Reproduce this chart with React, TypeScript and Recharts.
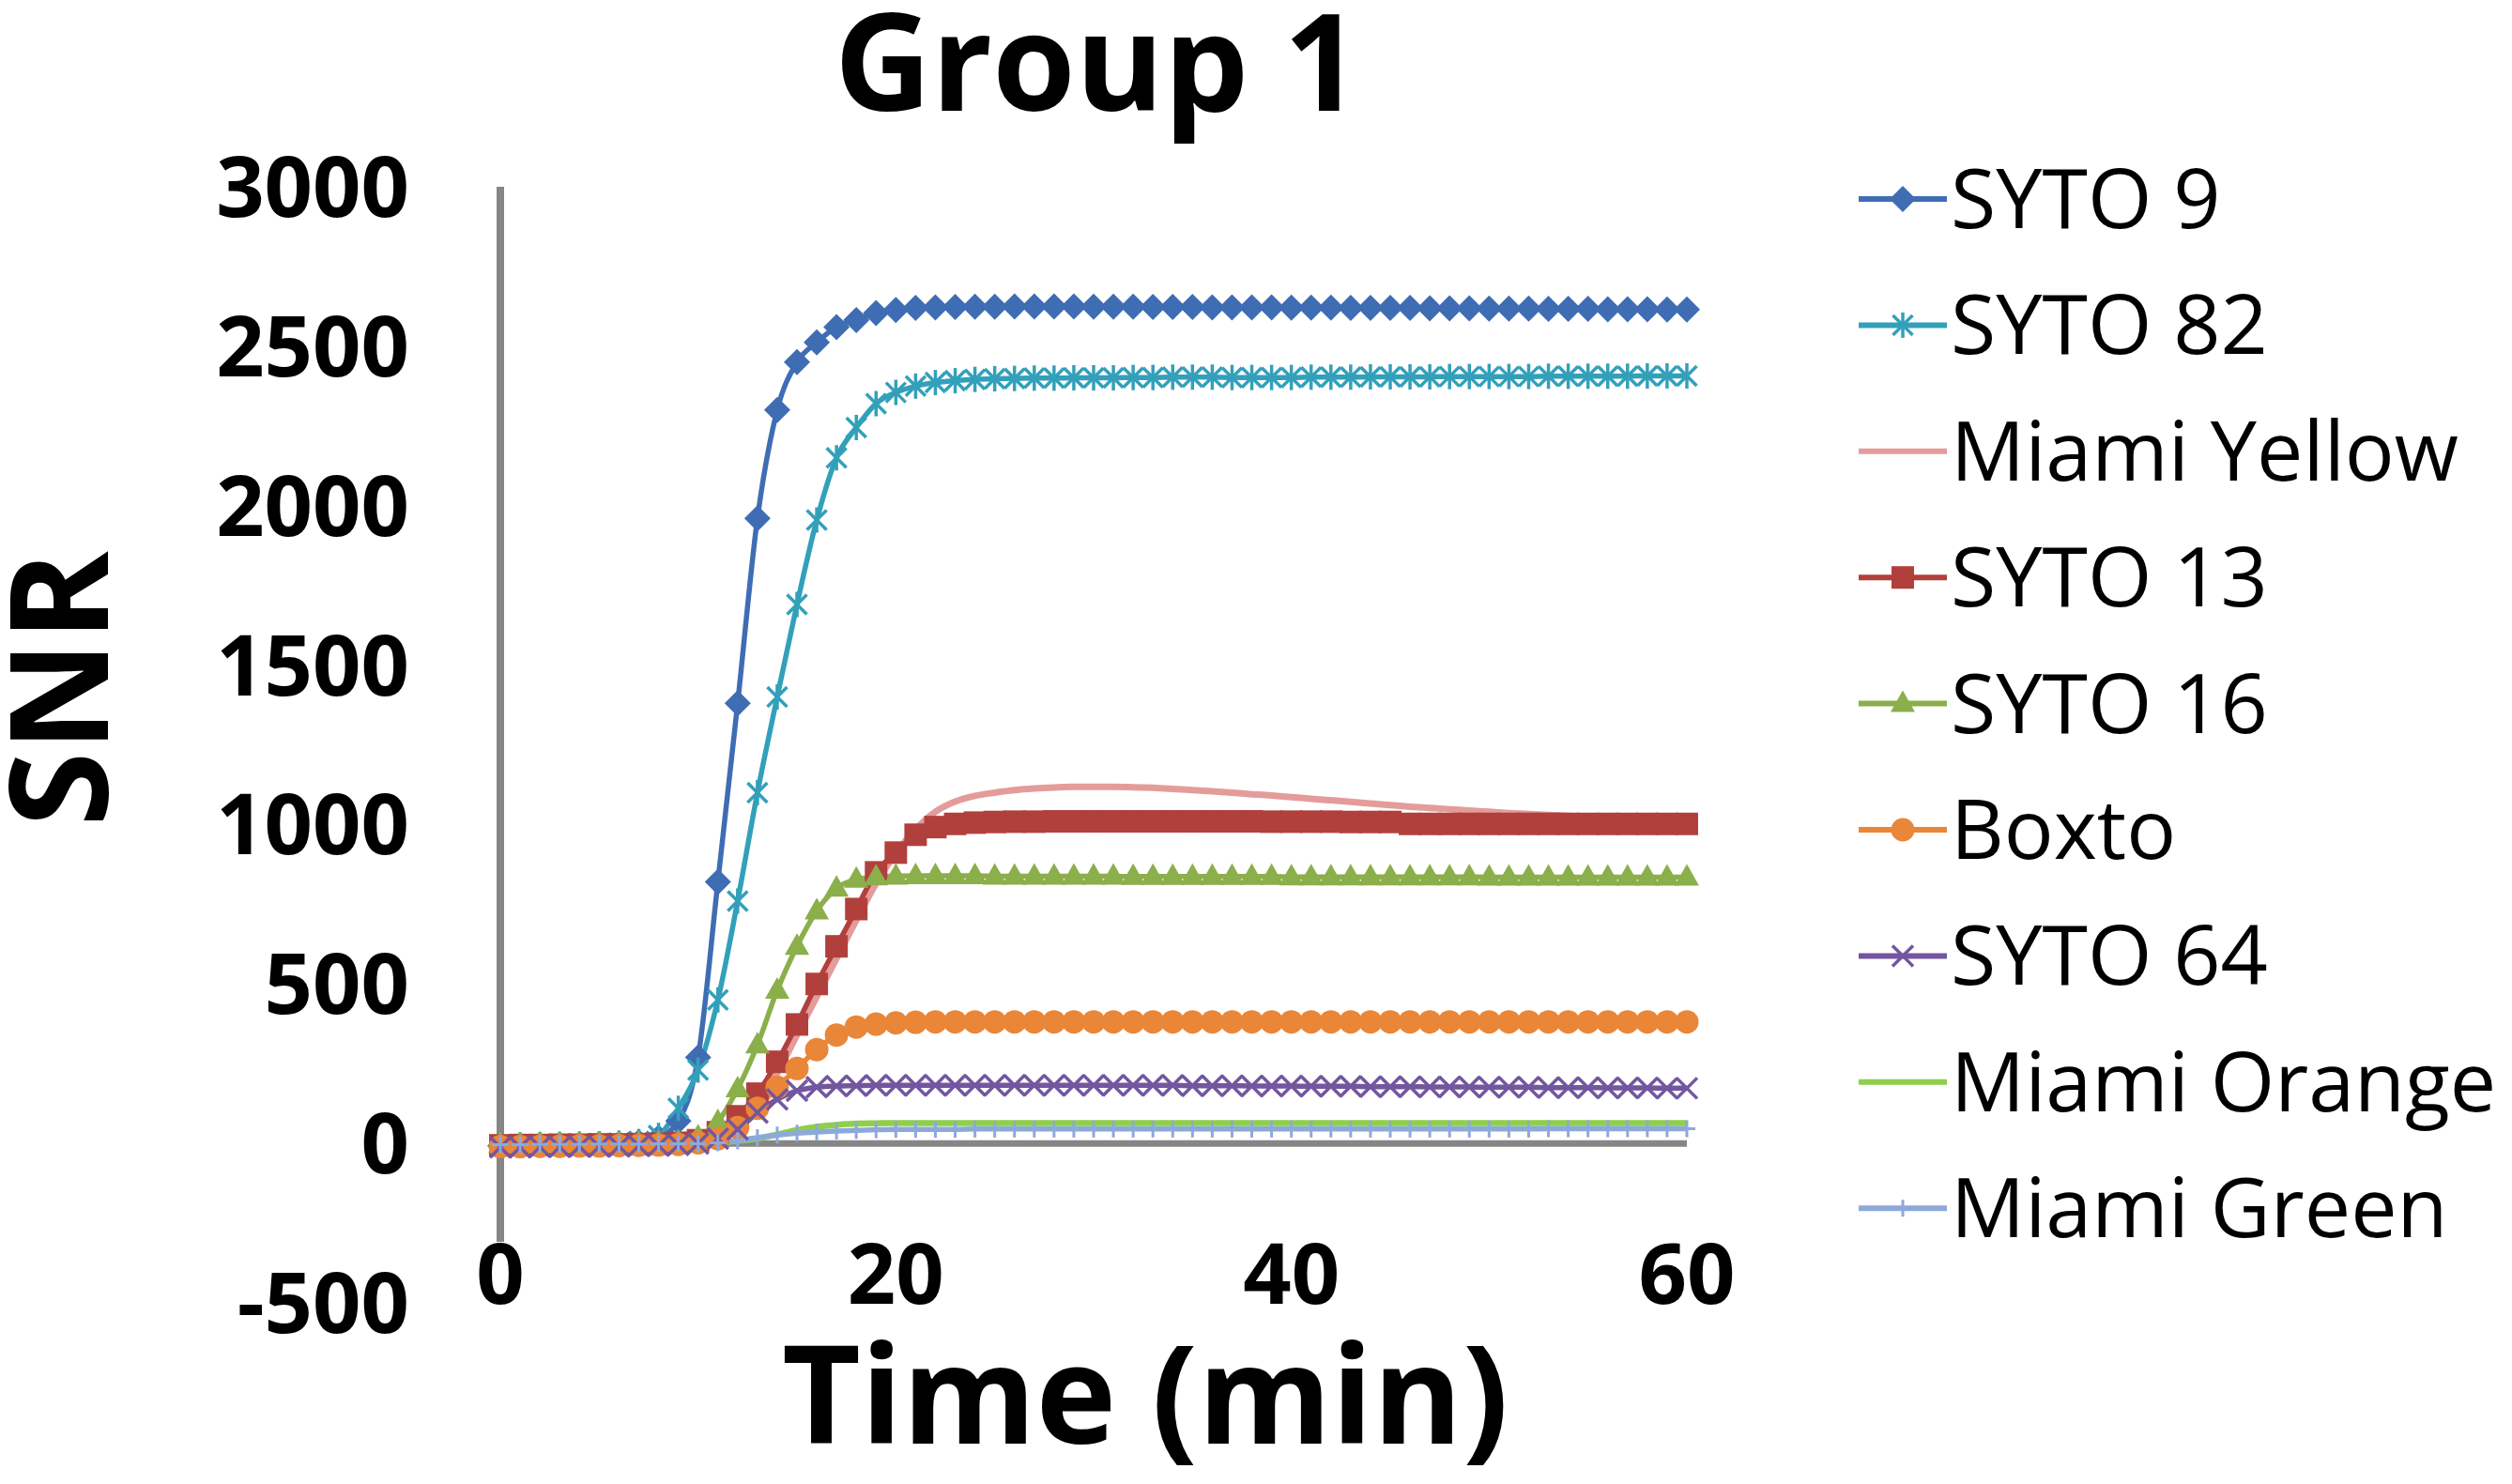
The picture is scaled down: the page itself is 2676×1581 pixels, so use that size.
import { LineChart, Line, XAxis, YAxis, ReferenceLine } from "recharts";

const FONT = "'Open Sans', sans-serif";

const minutes = [
  0, 1, 2, 3, 4, 5, 6, 7, 8, 9, 10, 11, 12, 13, 14, 15, 16, 17, 18, 19, 20,
  21, 22, 23, 24, 25, 26, 27, 28, 29, 30, 31, 32, 33, 34, 35, 36, 37, 38, 39, 40,
  41, 42, 43, 44, 45, 46, 47, 48, 49, 50, 51, 52, 53, 54, 55, 56, 57, 58, 59, 60,
];

const syto9 = [
  -8, -6, -5, -4, -3, -2, -1, 3, 18, 70, 270, 820, 1380, 1960, 2300, 2450, 2512, 2560, 2582, 2604, 2614,
  2620, 2622, 2623, 2624, 2624, 2625, 2625, 2625, 2625, 2624, 2624, 2624, 2623, 2623, 2623, 2622, 2622, 2622, 2622, 2621,
  2621, 2621, 2620, 2620, 2620, 2620, 2619, 2619, 2619, 2618, 2618, 2618, 2617, 2617, 2617, 2616, 2616, 2616, 2615, 2615,
];
const syto82 = [
  -6, -5, -4, -3, -2, -1, 1, 6, 25, 110, 230, 450, 760, 1100, 1400, 1690, 1955, 2150, 2245, 2320, 2355,
  2375, 2386, 2392, 2396, 2398, 2399, 2400, 2400, 2401, 2401, 2401, 2402, 2402, 2403, 2403, 2403, 2402, 2402, 2402, 2402,
  2403, 2403, 2403, 2404, 2404, 2404, 2404, 2405, 2405, 2405, 2405, 2405, 2406, 2406, 2406, 2406, 2406, 2407, 2407, 2407,
];
const miamiYellow = [
  -4, -4, -3, -3, -2, -2, -1, 0, 1, 2, 6, 25, 60, 120, 220, 340, 460, 580, 700, 815, 910,
  985, 1040, 1072, 1090, 1100, 1108, 1113, 1116, 1118, 1118, 1118, 1117, 1115, 1112, 1108, 1104, 1100, 1095, 1091, 1086,
  1081, 1076, 1071, 1066, 1061, 1056, 1052, 1048, 1044, 1040, 1036, 1033, 1030, 1027, 1024, 1021, 1018, 1016, 1014, 1012,
];
const syto13 = [
  -6, -5, -5, -4, -4, -3, -3, -2, -1, 2, 10, 35, 85, 156, 256, 373, 500, 618, 735, 850, 912,
  968, 992, 1002, 1006, 1008, 1009, 1009, 1010, 1010, 1010, 1010, 1010, 1010, 1010, 1010, 1010, 1010, 1010, 1009, 1009,
  1009, 1009, 1008, 1008, 1008, 1002, 1002, 1002, 1002, 1002, 1002, 1002, 1002, 1002, 1002, 1002, 1002, 1002, 1002, 1002,
];
const syto16 = [
  -3, -3, -2, -2, -2, -1, -1, 0, 1, 4, 20, 68, 171, 309, 480, 618, 729, 800, 828, 836, 838,
  839, 839, 839, 839, 838, 838, 838, 838, 838, 838, 838, 837, 837, 837, 837, 837, 837, 837, 837, 836,
  836, 836, 836, 836, 836, 836, 836, 836, 836, 835, 835, 835, 835, 835, 835, 835, 835, 835, 835, 835,
];
const boxto = [
  -10, -10, -9, -9, -8, -8, -7, -6, -5, -3, 2, 15, 50, 110, 176, 235, 294, 340, 365, 374, 378,
  380, 381, 381, 381, 381, 381, 381, 381, 381, 381, 381, 381, 381, 381, 381, 381, 381, 381, 381, 381,
  381, 381, 381, 381, 381, 381, 381, 381, 381, 381, 381, 381, 381, 381, 381, 381, 381, 381, 381, 381,
];
const syto64 = [
  -12, -12, -11, -11, -10, -10, -9, -8, -7, -5, 0, 15, 44, 97, 138, 165, 176, 180, 181, 182, 182,
  182, 182, 182, 182, 182, 182, 182, 182, 182, 182, 182, 182, 182, 182, 181, 181, 181, 180, 180, 180,
  179, 179, 179, 178, 178, 178, 177, 177, 177, 176, 176, 176, 175, 175, 175, 174, 174, 174, 173, 173,
];
const miamiOrange = [
  -2, -2, -2, -1, -1, -1, -1, 0, 0, 0, 0, 3, 8, 15, 28, 42, 52, 58, 62, 63, 64,
  64, 64, 64, 64, 64, 64, 64, 64, 64, 64, 64, 64, 64, 64, 64, 64, 64, 64, 64, 64,
  64, 64, 64, 64, 64, 64, 64, 64, 64, 64, 64, 64, 64, 64, 64, 64, 64, 64, 64, 64,
];
const miamiGreen = [
  -4, -4, -3, -3, -3, -2, -2, -2, -1, -1, -1, 2, 8, 18, 26, 32, 36, 39, 41, 43, 44,
  44, 44, 44, 45, 45, 45, 45, 45, 45, 45, 45, 45, 45, 45, 45, 45, 45, 45, 45, 45,
  45, 45, 45, 45, 45, 45, 45, 45, 45, 45, 45, 45, 46, 46, 46, 46, 46, 46, 46, 46,
];

const yTicks = [-500, 0, 500, 1000, 1500, 2000, 2500, 3000];
const xTicks = [0, 20, 40, 60];

const series = [
  { key: "syto9", name: "SYTO 9", values: syto9, color: "#3F6DB4", shape: "diamond", width: 5.5 },
  { key: "syto82", name: "SYTO 82", values: syto82, color: "#33A0BA", shape: "asterisk", width: 5.5 },
  { key: "miamiYellow", name: "Miami Yellow", values: miamiYellow, color: "#E49C9B", shape: "none", width: 7 },
  { key: "syto13", name: "SYTO 13", values: syto13, color: "#B1403D", shape: "square", width: 5.5 },
  { key: "syto16", name: "SYTO 16", values: syto16, color: "#8BAF4B", shape: "triangle", width: 5.5 },
  { key: "boxto", name: "Boxto", values: boxto, color: "#EA8638", shape: "circle", width: 5.5 },
  { key: "syto64", name: "SYTO 64", values: syto64, color: "#7356A0", shape: "x", width: 5.5 },
  { key: "miamiOrange", name: "Miami Orange", values: miamiOrange, color: "#8FCF4C", shape: "none", width: 6.5 },
  { key: "miamiGreen", name: "Miami Green", values: miamiGreen, color: "#8DA9DA", shape: "plus", width: 5.5 },
];

const rows = minutes.map((t, i) => {
  const row: Record<string, number> = { t };
  series.forEach((s) => {
    row[s.key] = s.values[i];
  });
  return row;
});

function Marker({ shape, cx, cy, color }: { shape: string; cx: number; cy: number; color: string }) {
  if (cx == null || cy == null) return null;
  switch (shape) {
    case "diamond": {
      const r = 14;
      return <polygon points={`${cx},${cy - r} ${cx + r},${cy} ${cx},${cy + r} ${cx - r},${cy}`} fill={color} />;
    }
    case "asterisk": {
      const r = 10.5;
      return (
        <g stroke={color} strokeWidth={3.5}>
          <line x1={cx - r} y1={cy - r} x2={cx + r} y2={cy + r} />
          <line x1={cx - r} y1={cy + r} x2={cx + r} y2={cy - r} />
          <line x1={cx} y1={cy - r - 3} x2={cx} y2={cy + r + 3} />
        </g>
      );
    }
    case "square":
      return <rect x={cx - 12} y={cy - 12} width={24} height={24} fill={color} />;
    case "triangle":
      return <polygon points={`${cx},${cy - 14} ${cx + 13},${cy + 9} ${cx - 13},${cy + 9}`} fill={color} />;
    case "circle":
      return <circle cx={cx} cy={cy} r={12.5} fill={color} />;
    case "x": {
      const r = 11;
      return (
        <g stroke={color} strokeWidth={3.5}>
          <line x1={cx - r} y1={cy - r} x2={cx + r} y2={cy + r} />
          <line x1={cx - r} y1={cy + r} x2={cx + r} y2={cy - r} />
        </g>
      );
    }
    case "plus":
      return (
        <g stroke={color} strokeWidth={3}>
          <line x1={cx} y1={cy - 9} x2={cx} y2={cy + 9} />
          <line x1={cx - 9} y1={cy} x2={cx + 9} y2={cy} />
        </g>
      );
    default:
      return null;
  }
}

function XTick(props: any) {
  const { x, y, payload } = props;
  const label = String(payload.value);
  const w = label.length * 54 + 8;
  const cy = y - 31;
  return (
    <g>
      <rect x={x - w / 2} y={cy - 34} width={w} height={70} fill="#fff" />
      <text x={x} y={cy + 32} textAnchor="middle" fontFamily={FONT} fontWeight={700} fontSize={90} fill="#000">
        {label}
      </text>
    </g>
  );
}

const W = 2660;
const H = 1565;
const legendTop = 204;
const legendStep = 134.4;

export default function App() {
  return (
    <div style={{ position: "relative", width: W, height: H, background: "#fff" }}>
      <LineChart width={W} height={H} data={rows} margin={{ top: 191, right: 871, bottom: 145, left: 0 }}>
        <XAxis
          dataKey="t"
          type="number"
          domain={[0, 60]}
          ticks={xTicks}
          axisLine={false}
          tickLine={false}
          tickSize={0}
          tickMargin={0}
          height={40}
          tick={<XTick />}
          interval={0}
        />
        <YAxis
          type="number"
          domain={[-500, 3000]}
          ticks={yTicks}
          width={525}
          axisLine={{ stroke: "#868686", strokeWidth: 8 }}
          tickLine={false}
          tickMargin={91}
          interval={0}
          tick={{ fontFamily: FONT, fontWeight: 700, fontSize: 90, fill: "#000" }}
        />
        <ReferenceLine y={0} stroke="#868686" strokeWidth={7} />
        {series.map((s) => (
          <Line
            key={s.key}
            type="monotone"
            dataKey={s.key}
            name={s.name}
            stroke={s.color}
            strokeWidth={s.width}
            isAnimationActive={false}
            dot={
              s.shape === "none"
                ? false
                : (p: any) => <Marker key={`${s.key}-${p.index}`} shape={s.shape} cx={p.cx} cy={p.cy} color={s.color} />
            }
            activeDot={false}
          />
        ))}
      </LineChart>
      <svg width={W} height={H} style={{ position: "absolute", left: 0, top: 0, pointerEvents: "none" }}>
        <text x={1161} y={110} textAnchor="middle" fontFamily={FONT} fontWeight={700} fontSize={143}>
          Group 1
        </text>
        <text x={1212} y={1530} textAnchor="middle" fontFamily={FONT} fontWeight={700} fontSize={145}>
          Time (min)
        </text>
        <text
          transform={`translate(107, 726) rotate(-90)`}
          textAnchor="middle"
          fontFamily={FONT}
          fontWeight={700}
          fontSize={145}
        >
          SNR
        </text>
        {series.map((s, i) => {
          const cy = legendTop + i * legendStep;
          return (
            <g key={s.key}>
              <line x1={1972} y1={cy} x2={2066} y2={cy} stroke={s.color} strokeWidth={6} />
              <Marker shape={s.shape} cx={2019} cy={cy} color={s.color} />
              <text x={2070} y={cy + 31} fontFamily={FONT} fontSize={88} fill="#000">
                {s.name}
              </text>
            </g>
          );
        })}
      </svg>
    </div>
  );
}
